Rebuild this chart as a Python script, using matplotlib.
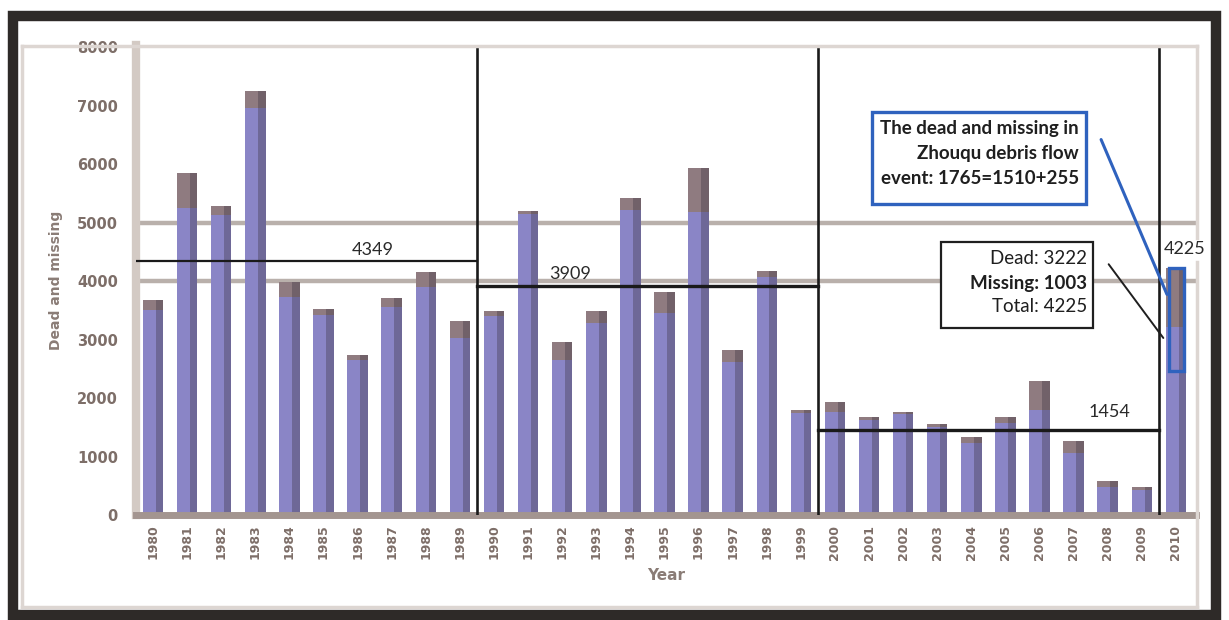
import matplotlib
matplotlib.use("Agg")
import matplotlib.pyplot as plt
from matplotlib.patches import Rectangle
from matplotlib.lines import Line2D
import numpy as np

# Annual dead and missing persons, 1980-2010
years = list(range(1980, 2011))
dead = [3500, 5250, 5130, 6960, 3730, 3420, 2650, 3550, 3900, 3020,
        3410, 5150, 2660, 3290, 5220, 3460, 5180, 2620, 4070, 1740,
        1770, 1620, 1730, 1500, 1230, 1570, 1790, 1060, 480, 420,
        3222]
missing = [180, 600, 150, 300, 250, 100, 80, 170, 250, 300,
           80, 50, 300, 200, 200, 350, 750, 200, 100, 60,
           170, 50, 40, 50, 100, 100, 500, 200, 100, 60,
           1003]
decades = [(1980, 1989), (1990, 1999), (2000, 2009)]
zhouqu_total = 1765
zhouqu_note = ["The dead and missing in", "Zhouqu debris flow",
               "event: 1765=1510+255"]

W, H = 1229, 620
fig = plt.figure(figsize=(W / 100, H / 100), dpi=100)
fig.patch.set_facecolor("white")

def fx(px):
    return px / W

def fy(py):
    return 1 - py / H

ax = fig.add_axes([fx(136), fy(515), fx(1196) - fx(136), fy(45) - fy(515)])
ax.set_xlim(1979.5, 2010.59)
ax.set_ylim(0, 8040)

yrs = np.array(years)
dead_a = np.array(dead)
miss_a = np.array(missing)
total = dead_a + miss_a

# faint horizontal gridlines
for g in (4000, 5000):
    ax.axhline(g, color="#b9b0ab", lw=3.2, zorder=0.5)

bw = 0.6
ax.bar(yrs, dead_a, width=bw, color="#8a85c6", zorder=2)
ax.bar(yrs, miss_a, bottom=dead_a, width=bw, color="#8f7b80", zorder=2)
# darker shading along the right side of each column
ax.bar(yrs + bw / 2 - 0.11, total, width=0.22, color="#3a3340", alpha=0.35,
       zorder=2.1, lw=0)

# decade separators and decade means
for i, (a, b) in enumerate(decades):
    sel = (yrs >= a) & (yrs <= b)
    m = total[sel].mean()
    x0 = ax.get_xlim()[0] if i == 0 else a - 0.5
    ax.plot([x0, b + 0.5], [m, m], color="#1a1a1a",
            lw=1.6 if i == 0 else 2.4, zorder=4)
    ax.axvline(b + 0.5, ymax=1.0, color="#1a1a1a", lw=1.9, zorder=4)

means = [total[(yrs >= a) & (yrs <= b)].mean() for a, b in decades]
label_x = [1986.45, 1992.23, 2008.06]
label_off = [2, 3, 7]
for x, m, off in zip(label_x, means, label_off):
    ax.annotate(f"{m:.0f}", xy=(x, m), xytext=(0, off), textcoords="offset points",
                ha="center", va="bottom", fontsize=13, family="Lato",
                color="#2a2a2a", zorder=6)

last = total[-1]
ax.annotate(f"{last}", xy=(2010.26, last), xytext=(0, 8), textcoords="offset points",
            ha="center", va="bottom", fontsize=13, family="Lato", color="#2a2a2a",
            annotation_clip=False, zorder=6)

# outline of the Zhouqu share of the 2010 column
ax.add_patch(Rectangle((2010.03 - 0.22, last - zhouqu_total), 0.44, zhouqu_total,
                       fill=False, ec="#2f62be", lw=2.4, zorder=6, clip_on=False))

# axes styling
for s in ("top", "right"):
    ax.spines[s].set_visible(False)
ax.spines["left"].set_color("#d3cac4")
ax.spines["left"].set_linewidth(6)
ax.spines["bottom"].set_color("#a39590")
ax.spines["bottom"].set_linewidth(5)
ax.spines["bottom"].set_zorder(3)
ax.set_yticks(range(0, 8001, 1000))
ax.set_yticklabels([str(v) for v in range(0, 8001, 1000)])
ax.set_xticks(years)
ax.set_xticklabels([str(y) for y in years], rotation=90)
ax.tick_params(axis="y", length=0, pad=13, labelsize=10.5, labelcolor="#7d6e68")
ax.tick_params(axis="x", length=0, pad=7, labelsize=9, labelcolor="#7d6e68")
for t in ax.get_xticklabels() + ax.get_yticklabels():
    t.set_fontweight("bold")
ax.set_xlabel("Year", fontsize=11, fontweight="bold", color="#8a7c76", labelpad=6)
ax.set_ylabel("Dead and missing", fontsize=10, fontweight="bold", color="#8a7c76",
              labelpad=10)

# inner chart border (right side broken around the 2010 label) and outer frame
border = "#ddd6d2"
for xs, ys in [((22, 1197), (46, 46)), ((22, 22), (46, 607)), ((22, 1197), (607, 607)),
               ((1197, 1197), (46, 238)), ((1197, 1197), (262, 607))]:
    fig.add_artist(Line2D([fx(v) for v in xs], [fy(v) for v in ys],
                          transform=fig.transFigure, color=border, lw=2.5))
fig.add_artist(Rectangle((fx(13), fy(615)), fx(1216) - fx(13), fy(16) - fy(615),
                         transform=fig.transFigure, fill=False, ec="#2e2a28", lw=7.5))

# Zhouqu note box
fig.add_artist(Rectangle((fx(872), fy(204)), fx(1086) - fx(872), fy(112) - fy(204),
                         transform=fig.transFigure, fc="white", ec="#2f62be", lw=2.4,
                         zorder=7))
for line, py in zip(zhouqu_note, (129, 154, 179)):
    fig.text(fx(1079), fy(py), line, ha="right", va="center", fontsize=13.5,
             family="Lato", fontweight="bold", color="#1f1f1f", zorder=8)
ax.annotate("", xy=(2009.77, 3730), xycoords="data",
            xytext=(fx(1100), fy(137)), textcoords="figure fraction",
            arrowprops=dict(arrowstyle="-", color="#2f62be", lw=2.2),
            annotation_clip=False, zorder=7)

# dead / missing / total box
fig.add_artist(Rectangle((fx(941), fy(328)), fx(1093) - fx(941), fy(242) - fy(328),
                         transform=fig.transFigure, fc="white", ec="#1f1f1f", lw=1.6,
                         zorder=7))
box_lines = [(f"Dead: {dead[-1]}", "normal"), (f"Missing: {missing[-1]}", "bold"),
             (f"Total: {last}", "normal")]
for (line, wt), py in zip(box_lines, (258, 283, 307)):
    fig.text(fx(1087), fy(py), line, ha="right", va="center", fontsize=13.5,
             family="Lato", fontweight=wt, color="#1f1f1f", zorder=8)
ax.annotate("", xy=(2009.68, 2990), xycoords="data",
            xytext=(fx(1107), fy(262)), textcoords="figure fraction",
            arrowprops=dict(arrowstyle="-", color="#1f1f1f", lw=1.4),
            annotation_clip=False, zorder=7)

fig.savefig("out.png", dpi=100)
